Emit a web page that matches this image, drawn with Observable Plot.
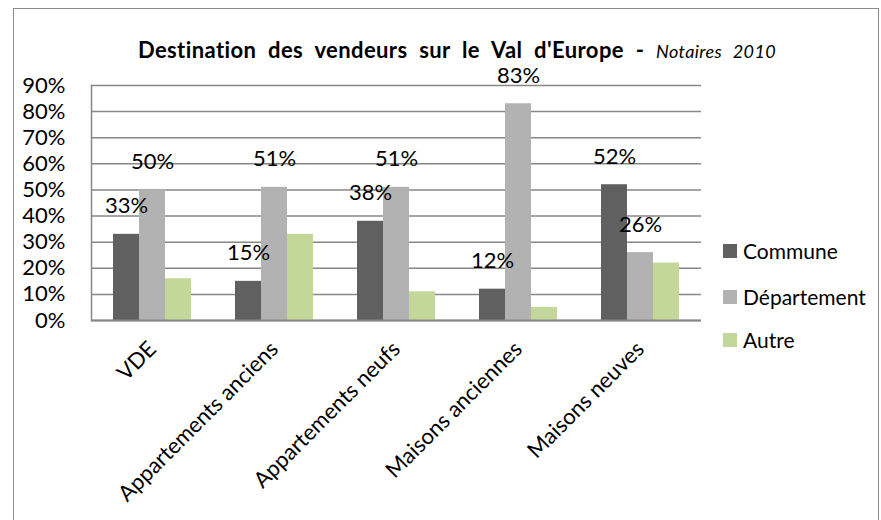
<!DOCTYPE html>
<html>
<head>
<meta charset="utf-8">
<script src="https://cdn.jsdelivr.net/npm/d3@7"></script>
<script src="https://cdn.jsdelivr.net/npm/@observablehq/plot@0.6"></script>
<style>
  body { margin: 0; background: #fff; font-family: Lato, "Open Sans", sans-serif; }
  #wrap { position: relative; width: 881px; height: 520px; overflow: hidden; background: #fff; }
  #border { position: absolute; left: 13px; top: 8px; width: 866px; height: 600px; border: 1.5px solid #8c8c8c; box-sizing: border-box; }
  #title { position: absolute; left: 0; width: 914px; top: 39px; line-height: 22px; text-align: center; font-weight: bold; font-size: 22px; letter-spacing: 0.4px; word-spacing: 6px; color: #000; white-space: nowrap; z-index: 2; }
  #title i { font-weight: normal; font-size: 18px; }
  #chart { position: absolute; left: 0; top: 44px; }
  #legend { position: absolute; left: 723px; top: 0; }
  .item { position: absolute; left: 0; display: flex; align-items: center; white-space: nowrap; font-size: 21px; line-height: 22px; color: #000; }
  .sw { width: 14px; height: 14px; margin-right: 6px; }
</style>
</head>
<body>
<div id="wrap">
  <div id="border"></div>
  <div id="chart"></div>
  <div id="title">Destination des vendeurs sur le Val d'Europe - <i>Notaires 2010</i></div>
  <div id="legend"></div>
</div>
<script>
const categories = ["VDE", "Appartements anciens", "Appartements neufs", "Maisons anciennes", "Maisons neuves"];
const series = ["Commune", "Département", "Autre"];
const commune = [33, 15, 38, 12, 52];
const departement = [50, 51, 51, 83, 26];
const autre = [16, 33, 11, 5, 22];
const colors = ["#606060", "#b2b2b2", "#c4d79b"];
const yTicks = [0, 10, 20, 30, 40, 50, 60, 70, 80, 90];
const labelled = ["Commune", "Département"];

const seriesValues = [commune, departement, autre];
const data = [];
categories.forEach((c, i) => {
  series.forEach((s, j) => data.push({category: c, series: s, value: seriesValues[j][i]}));
});

const chart = Plot.plot({
  width: 881,
  height: 476,
  marginLeft: 89,
  marginRight: 178,
  marginTop: 41,
  marginBottom: 200,
  style: { fontFamily: "Lato, 'Open Sans', sans-serif", background: "transparent", color: "#000" },
  fx: { domain: categories, paddingInner: 0, paddingOuter: 0, label: null },
  x: { domain: series, paddingInner: 0, paddingOuter: 0.775, axis: null },
  y: { domain: [0, 90], axis: null },
  color: { domain: series, range: colors },
  marks: [
    Plot.ruleY(yTicks, { stroke: "#878787", strokeWidth: 1.5 }),
    Plot.barY(data, { fx: "category", x: "series", y: "value", fill: "series" }),
    Plot.ruleY([0], { stroke: "#878787", strokeWidth: 2 }),
    Plot.frame({ anchor: "left", facetAnchor: "left", stroke: "#878787", strokeWidth: 1.5 }),
    Plot.text(data.filter(d => labelled.includes(d.series)), {
      fx: "category", x: "series", y: "value",
      text: d => d.value + "%", dy: -28, lineAnchor: "middle",
      fontSize: 22, fill: "#000"
    }),
    Plot.axisY({ ticks: yTicks, tickFormat: d => d + "%", tickSize: 0, tickPadding: 26, fontSize: 22, label: null, color: "#000" }),
    Plot.axisFx({ anchor: "bottom", tickRotate: -45, tickSize: 0, tickPadding: 25, fontSize: 22, label: null, color: "#000" })
  ]
});
document.getElementById("chart").appendChild(chart);

const legend = document.getElementById("legend");
const legendTops = [240, 286, 329];
series.forEach((s, i) => {
  const item = document.createElement("div");
  item.className = "item";
  item.style.top = legendTops[i] + "px";
  const sw = document.createElement("span");
  sw.className = "sw";
  sw.style.background = colors[i];
  item.appendChild(sw);
  item.appendChild(document.createTextNode(s));
  legend.appendChild(item);
});
</script>
</body>
</html>
